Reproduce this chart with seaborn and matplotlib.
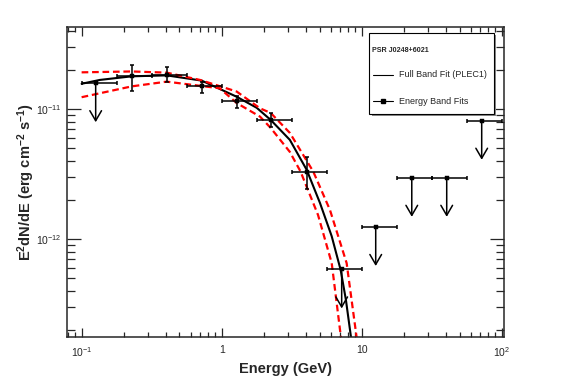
import matplotlib
matplotlib.use("Agg")
import matplotlib.pyplot as plt
import seaborn as sns
import numpy as np
from matplotlib.lines import Line2D
from matplotlib.patches import Rectangle

# Energy band fits (GeV, erg cm^-2 s^-1)
band_E = [0.126, 0.228, 0.405, 0.72, 1.28, 2.24, 4.05, 7.2, 12.6, 22.8, 40.5, 72.0]
band_lo = [0.1, 0.178, 0.316, 0.562, 1.0, 1.78, 3.16, 5.62, 10.0, 17.8, 31.6, 56.2]
band_hi = [0.178, 0.316, 0.562, 1.0, 1.78, 3.16, 5.62, 10.0, 17.8, 31.6, 56.2, 100.0]
band_F = [1.58e-11, 1.79e-11, 1.83e-11, 1.49e-11, 1.14e-11, 8.23e-12,
          3.3e-12, 5.85e-13, 1.24e-12, 2.96e-12, 2.96e-12, 8.13e-12]
band_F_lo = [np.nan, 1.38e-11, 1.62e-11, 1.32e-11, 1.01e-11, 7.23e-12,
             2.41e-12, np.nan, np.nan, np.nan, np.nan, np.nan]
band_F_hi = [np.nan, 2.17e-11, 2.09e-11, 1.62e-11, 1.25e-11, 9.37e-12,
             4.25e-12, np.nan, np.nan, np.nan, np.nan, np.nan]
upper_limit = [True, False, False, False, False, False, False, True, True, True, True, True]

# Full band fit (PLEC1) and its error band
fit_E = [0.1, 0.135, 0.228, 0.405, 0.72, 1.28, 1.78, 2.24, 3.07, 4.05, 5.04, 6.11, 7.08, 7.72, 8.39]
fit_F = [1.56e-11, 1.67e-11, 1.78e-11, 1.81e-11, 1.65e-11, 1.24e-11, 1.02e-11, 8.23e-12,
         5.78e-12, 3.4e-12, 1.89e-12, 1.05e-12, 5.78e-13, 3.4e-13, 1.76e-13]
up_E = [0.1, 0.228, 0.405, 0.70, 1.28, 1.88, 2.24, 3.07, 4.51, 5.94, 7.81, 9.2]
up_F = [1.91e-11, 1.94e-11, 1.90e-11, 1.67e-11, 1.36e-11, 1.01e-11, 9.31e-12, 6.54e-12,
        3.30e-12, 1.67e-12, 6.53e-13, 1.76e-13]
low_E = [0.1, 0.228, 0.405, 0.97, 1.28, 1.88, 2.24, 3.07, 3.66, 4.88, 6.11, 7.11]
low_F = [1.23e-11, 1.49e-11, 1.62e-11, 1.44e-11, 1.11e-11, 8.72e-12, 7.14e-12, 4.67e-12,
         3.30e-12, 1.53e-12, 6.53e-13, 1.76e-13]

sns.set_theme(style="ticks")
plt.rcParams["font.family"] = ["Liberation Sans", "DejaVu Sans"]
plt.rcParams["mathtext.fontset"] = "custom"
plt.rcParams["mathtext.rm"] = "Liberation Sans"
plt.rcParams["mathtext.bf"] = "Liberation Sans:bold"
plt.rcParams["mathtext.default"] = "regular"

fig = plt.figure(figsize=(5.67, 3.84), dpi=100)
ax = fig.add_axes([0.118, 0.122, 0.771, 0.808])
ax.set_xscale("log")
ax.set_yscale("log")

dash = (0, (3, 1.7))
sns.lineplot(x=fit_E, y=fit_F, ax=ax, color="black", lw=1.5, sort=False)
sns.lineplot(x=up_E, y=up_F, ax=ax, color="red", lw=1.6, linestyle=dash, sort=False)
sns.lineplot(x=low_E, y=low_F, ax=ax, color="red", lw=1.6, linestyle=dash, sort=False)

E = np.array(band_E)
F = np.array(band_F)
xerr = [E - np.array(band_lo), np.array(band_hi) - E]
ax.errorbar(E, F, xerr=xerr, fmt="none", ecolor="black", elinewidth=1.1, capsize=1.6, capthick=1.1)
det = ~np.array(upper_limit)
yerr = [F[det] - np.array(band_F_lo)[det], np.array(band_F_hi)[det] - F[det]]
ax.errorbar(E[det], F[det], yerr=yerr, fmt="none", ecolor="black", elinewidth=1.1, capsize=1.6, capthick=1.1)
sns.scatterplot(x=E, y=F, ax=ax, marker="s", s=7, color="black", edgecolor="black", linewidth=0.3, zorder=5)

# upper limit arrows, ~0.3 decade long
for e, f, ul in zip(E, F, upper_limit):
    if ul:
        ax.annotate("", xy=(e, f * 0.5), xytext=(e, f),
                    arrowprops=dict(arrowstyle="->,head_length=0.6,head_width=0.35",
                                    color="black", lw=1.1, shrinkA=0, shrinkB=0))

ax.set_xlim(0.0785, 104)
ax.set_ylim(1.76e-13, 4.27e-11)
ax.set_xticks([0.1, 1, 10, 100])
ax.set_xticklabels(["$10^{-1}$", "1", "10", "$10^{2}$"])
ax.set_yticks([1e-12, 1e-11])
ax.set_yticklabels(["$10^{-12}$", "$10^{-11}$"])
ax.tick_params(which="both", direction="in", top=True, right=True, labelsize=7.5, width=0.9)
ax.tick_params(axis="x", which="major", length=6.5, pad=6)
ax.tick_params(axis="x", which="minor", length=3.6)
ax.tick_params(axis="y", which="major", length=10, pad=4)
ax.tick_params(axis="y", which="minor", length=5.5)
for s in ax.spines.values():
    s.set_linewidth(1.1)

ax.set_xlabel("Energy (GeV)", fontsize=10.5, fontweight="bold", labelpad=2)
ax.set_ylabel(r"E$\mathbf{^{2}}$dN/dE (erg cm$\mathbf{^{-2}}$ s$\mathbf{^{-1}}$)",
              fontsize=10.5, fontweight="bold", labelpad=-1)

# legend box (ROOT style, with shadow)
ax.add_patch(Rectangle((0.697, 0.712), 0.285, 0.261, transform=ax.transAxes,
                       facecolor="#888888", edgecolor="none", zorder=6, clip_on=False))
ax.add_patch(Rectangle((0.692, 0.719), 0.285, 0.261, transform=ax.transAxes,
                       facecolor="white", edgecolor="black", lw=0.8, zorder=7, clip_on=False))
ax.text(0.697, 0.925, "PSR J0248+6021", transform=ax.transAxes, fontsize=5.1,
        fontweight="bold", va="center", ha="left", zorder=8)
ax.add_line(Line2D([0.6995, 0.7467], [0.845, 0.845], transform=ax.transAxes,
                   color="black", lw=0.8, zorder=8))
ax.add_line(Line2D([0.6995, 0.7467], [0.761, 0.761], transform=ax.transAxes,
                   color="black", lw=0.8, zorder=8))
ax.add_line(Line2D([0.723], [0.761], transform=ax.transAxes, marker="s", ms=3,
                   color="black", zorder=8))
ax.text(0.7604, 0.845, "Full Band Fit (PLEC1)", transform=ax.transAxes, fontsize=6.5,
        va="center", ha="left", zorder=8)
ax.text(0.7604, 0.761, "Energy Band Fits", transform=ax.transAxes, fontsize=6.5,
        va="center", ha="left", zorder=8)

plt.savefig("out.png", dpi=100)
